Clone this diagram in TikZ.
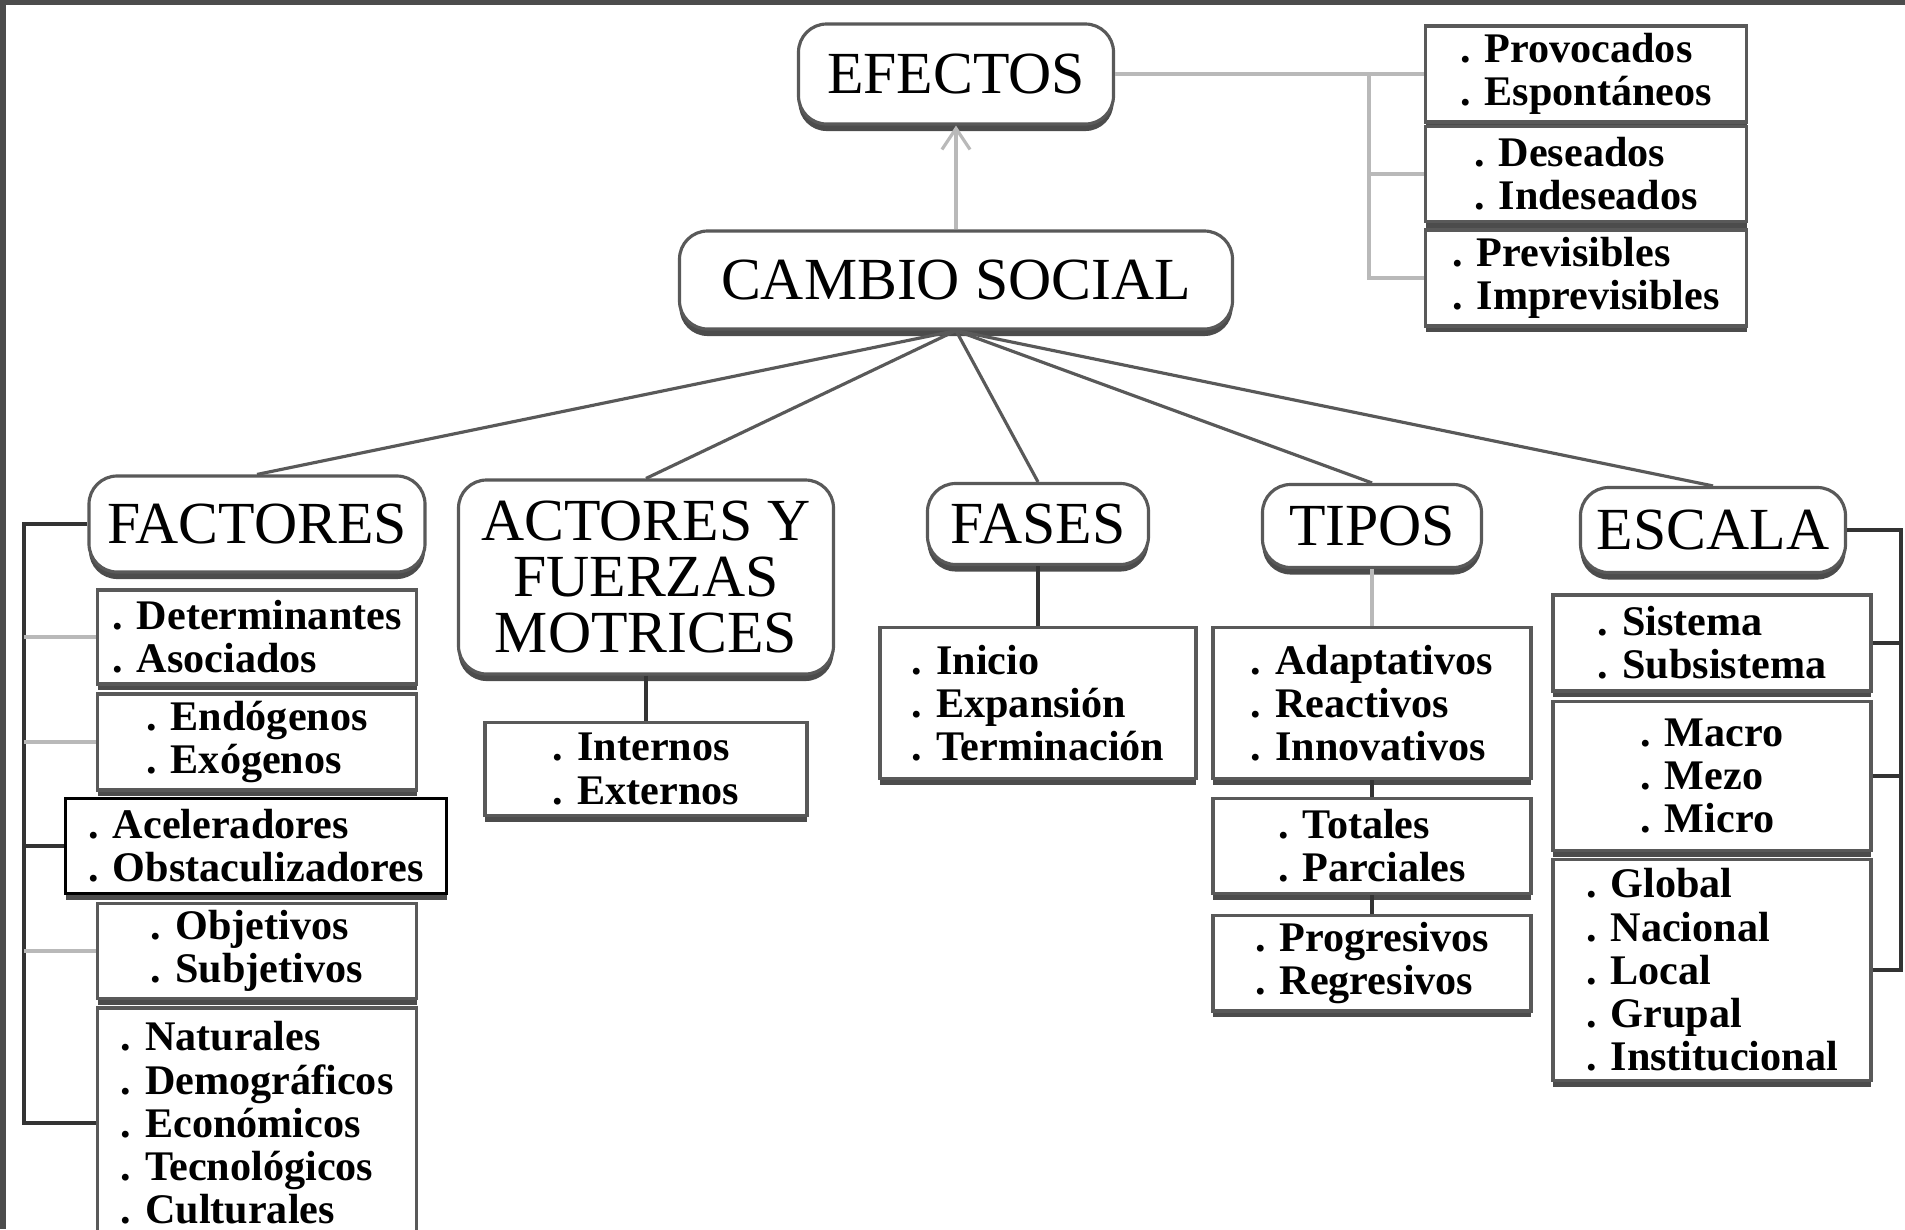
\documentclass[tikz,border=0pt]{standalone}
\usepackage{fontspec}
\setmainfont{Liberation Serif}
\usetikzlibrary{positioning, arrows.meta, shadows}

\begin{document}
\begin{tikzpicture}[
    mainbox/.style={draw=gray!70!black, line width=0.9pt, rounded corners=8pt, fill=white,
        drop shadow={shadow xshift=0pt, shadow yshift=-2pt, fill=gray!60!black, opacity=1},
        font=\fontsize{17}{16}\selectfont, align=center, inner sep=2pt},
    itembox/.style={draw=gray!70!black, line width=0.9pt, fill=white,
        drop shadow={shadow xshift=0pt, shadow yshift=-1.8pt, fill=gray!60!black, opacity=1},
        font=\fontsize{12}{12.3}\selectfont\bfseries, align=left, inner sep=2pt},
    link/.style={draw=black!65, line width=0.9pt},
    trunk/.style={draw=gray!55, line width=1.3pt},
    darktrunk/.style={draw=gray!40!black, line width=1.4pt},
    upward/.style={draw=gray!55, line width=0.9pt, -{Straight Barb[length=6pt, width=8pt]}}
]
    \useasboundingbox (0,0) rectangle (19.05,-12.29);
    % frame of the scan
    \fill[gray!60!black] (0,0) rectangle (19.05,-0.05);
    \fill[gray!60!black] (0,0) rectangle (0.06,-12.29);

    % Top: effects of social change
    \node[mainbox, minimum width=3.15cm, minimum height=1.0cm] (efectos) at (9.56,-0.74) {EFECTOS};
    \node[mainbox, minimum width=5.53cm, minimum height=0.98cm] (cambio) at (9.56,-2.80) {CAMBIO SOCIAL};
    \node[itembox, minimum width=3.21cm, minimum height=0.96cm] (provoc) at (15.86,-0.74) {. Provocados\\. Espontáneos};
    \node[itembox, minimum width=3.21cm, minimum height=0.95cm] (desead) at (15.86,-1.74) {. Deseados\\. Indeseados};
    \node[itembox, minimum width=3.21cm, minimum height=0.96cm] (previs) at (15.86,-2.78) {. Previsibles\\. Imprevisibles};

    \coordinate (efk) at (13.69,-0.74);
    \draw[trunk] (efectos.east) -- (provoc.west);
    \draw[trunk] (efk) |- (previs.west);
    \draw[trunk] (efk |- desead.west) -- (desead.west);
    \draw[upward] (cambio.north) -- (efectos.south);

    % Second row
    \node[mainbox, minimum width=3.36cm, minimum height=0.96cm] (factores) at (2.57,-5.24) {FACTORES};
    \node[mainbox, minimum width=3.75cm, minimum height=1.94cm] (actores) at (6.46,-5.77) {ACTORES Y\\FUERZAS\\MOTRICES};
    \node[mainbox, minimum width=2.21cm, minimum height=0.81cm] (fases) at (10.38,-5.24) {FASES};
    \node[mainbox, minimum width=2.19cm, minimum height=0.83cm] (tipos) at (13.72,-5.26) {TIPOS};
    \node[mainbox, minimum width=2.65cm, minimum height=0.85cm] (escala) at (17.13,-5.30) {ESCALA};

    \path[link]
        (cambio.south) edge (factores.north)
        (cambio.south) edge (actores.north)
        (cambio.south) edge (fases.north)
        (cambio.south) edge (tipos.north)
        (cambio.south) edge (escala.north);

    % Factores
    \node[itembox, minimum width=3.19cm, minimum height=0.94cm] (determ) at (2.57,-6.37) {. Determinantes\\. Asociados};
    \node[itembox, minimum width=3.19cm, minimum height=0.94cm] (endog) at (2.57,-7.42) {. Endógenos\\. Exógenos};
    \node[itembox, minimum width=3.81cm, minimum height=0.95cm, draw=black] (aceler) at (2.56,-8.46) {. Aceleradores\\. Obstaculizadores};
    \node[itembox, minimum width=3.19cm, minimum height=0.93cm] (objet) at (2.57,-9.51) {. Objetivos\\. Subjetivos};
    \node[itembox, minimum width=3.19cm, minimum height=2.3cm] (natur) at (2.57,-11.23) {. Naturales\\. Demográficos\\. Económicos\\. Tecnológicos\\. Culturales};

    \coordinate (fk) at (0.24,-5.24);
    \draw[darktrunk] (factores.west) -- (fk) |- (natur.west);
    \draw[trunk] (fk |- determ.west) -- (determ.west);
    \draw[trunk] (fk |- endog.west) -- (endog.west);
    \draw[darktrunk] (fk |- aceler.west) -- (aceler.west);
    \draw[trunk] (fk |- objet.west) -- (objet.west);

    % Actores, fases
    \node[itembox, minimum width=3.22cm, minimum height=0.93cm] (intern) at (6.46,-7.69) {. Internos\\. Externos};
    \draw[darktrunk, line width=1pt] (actores.south) -- (intern.north);
    \node[itembox, minimum width=3.16cm, minimum height=1.51cm] (inicio) at (10.38,-7.03) {. Inicio\\. Expansión\\. Terminación};
    \draw[darktrunk, line width=1pt] (fases.south) -- (inicio.north);

    % Tipos
    \node[itembox, minimum width=3.18cm, minimum height=1.51cm] (adapt) at (13.72,-7.03) {. Adaptativos\\. Reactivos\\. Innovativos};
    \node[itembox, minimum width=3.18cm, minimum height=0.95cm] (total) at (13.72,-8.46) {. Totales\\. Parciales};
    \node[itembox, minimum width=3.18cm, minimum height=0.94cm] (progr) at (13.72,-9.63) {. Progresivos\\. Regresivos};
    \draw[trunk, line width=1pt] (tipos.south) -- (adapt.north);
    \draw[darktrunk, line width=1pt] (adapt.south) -- (total.north);
    \draw[darktrunk, line width=1pt] (total.south) -- (progr.north);

    % Escala
    \node[itembox, minimum width=3.18cm, minimum height=0.96cm] (sist) at (17.12,-6.43) {. Sistema\\. Subsistema};
    \node[itembox, minimum width=3.18cm, minimum height=1.49cm] (macro) at (17.12,-7.76) {. Macro\\. Mezo\\. Micro};
    \node[itembox, minimum width=3.18cm, minimum height=2.21cm] (global) at (17.12,-9.70) {. Global\\. Nacional\\. Local\\. Grupal\\. Institucional};

    \coordinate (ek) at (19.01,-5.30);
    \draw[darktrunk] (escala.east) -- (ek) |- (global.east);
    \draw[darktrunk] (ek |- sist.east) -- (sist.east);
    \draw[darktrunk] (ek |- macro.east) -- (macro.east);
\end{tikzpicture}
\end{document}
